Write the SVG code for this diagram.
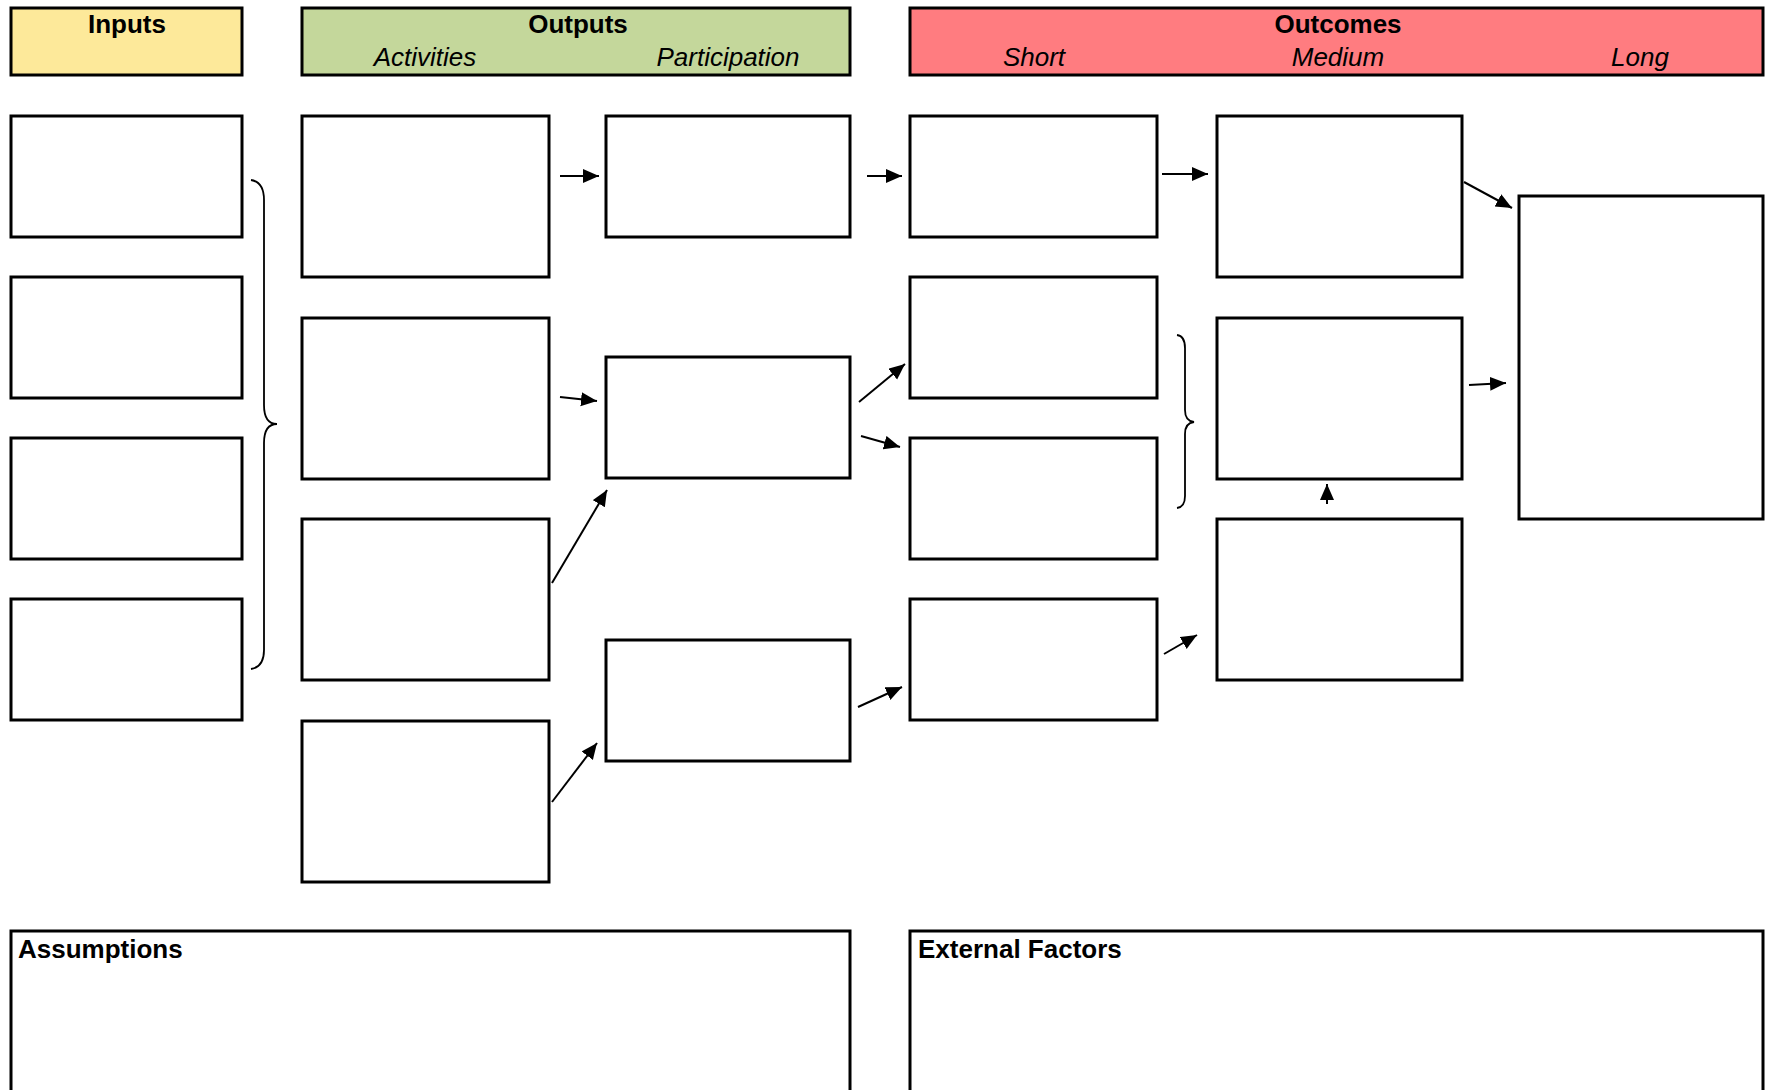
<svg xmlns="http://www.w3.org/2000/svg" width="1766" height="1090" viewBox="0 0 1766 1090">
<style>
.box{fill:#fff;stroke:#000;stroke-width:3}
.hdr{stroke:#000;stroke-width:3}
.t{font-family:"Liberation Sans",Arial,sans-serif;font-size:26px;fill:#000}
.b{font-weight:bold}
.i{font-style:italic}
.c{text-anchor:middle}
.arr{stroke:#000;stroke-width:2;fill:none;marker-end:url(#ah)}
.brace{stroke:#000;stroke-width:1.8;fill:none}
</style>
<defs>
<marker id="ah" markerUnits="userSpaceOnUse" markerWidth="17" markerHeight="15" refX="16" refY="7" orient="auto">
<path d="M0,0 L16,7 L0,14 z" fill="#000"/>
</marker>
</defs>
<rect width="1766" height="1090" fill="#fff"/>
<g id="header-inputs">
<rect class="hdr" x="11" y="8" width="231" height="67" fill="#FDE99A"/>
<text class="t b c" x="127" y="33">Inputs</text>
</g>
<g id="header-outputs">
<rect class="hdr" x="302" y="8" width="548" height="67" fill="#C4D79B"/>
<text class="t b c" x="578" y="33">Outputs</text>
<text class="t i c" x="425" y="66">Activities</text>
<text class="t i c" x="728" y="66">Participation</text>
</g>
<g id="header-outcomes">
<rect class="hdr" x="910" y="8" width="853" height="67" fill="#FF7C80"/>
<text class="t b c" x="1338" y="33">Outcomes</text>
<text class="t i c" x="1034" y="66">Short</text>
<text class="t i c" x="1338" y="66">Medium</text>
<text class="t i c" x="1640" y="66">Long</text>
</g>
<g id="input-1"><rect class="box" x="11" y="116" width="231" height="121"/></g>
<g id="input-2"><rect class="box" x="11" y="277" width="231" height="121"/></g>
<g id="input-3"><rect class="box" x="11" y="438" width="231" height="121"/></g>
<g id="input-4"><rect class="box" x="11" y="599" width="231" height="121"/></g>
<g id="activity-1"><rect class="box" x="302" y="116" width="247" height="161"/></g>
<g id="activity-2"><rect class="box" x="302" y="318" width="247" height="161"/></g>
<g id="activity-3"><rect class="box" x="302" y="519" width="247" height="161"/></g>
<g id="activity-4"><rect class="box" x="302" y="721" width="247" height="161"/></g>
<g id="participation-1"><rect class="box" x="606" y="116" width="244" height="121"/></g>
<g id="participation-2"><rect class="box" x="606" y="357" width="244" height="121"/></g>
<g id="participation-3"><rect class="box" x="606" y="640" width="244" height="121"/></g>
<g id="short-1"><rect class="box" x="910" y="116" width="247" height="121"/></g>
<g id="short-2"><rect class="box" x="910" y="277" width="247" height="121"/></g>
<g id="short-3"><rect class="box" x="910" y="438" width="247" height="121"/></g>
<g id="short-4"><rect class="box" x="910" y="599" width="247" height="121"/></g>
<g id="medium-1"><rect class="box" x="1217" y="116" width="245" height="161"/></g>
<g id="medium-2"><rect class="box" x="1217" y="318" width="245" height="161"/></g>
<g id="medium-3"><rect class="box" x="1217" y="519" width="245" height="161"/></g>
<g id="long-1"><rect class="box" x="1519" y="196" width="244" height="323"/></g>
<g id="assumptions">
<rect class="box" x="11" y="931" width="839" height="200"/>
<text class="t b" x="18" y="958">Assumptions</text>
</g>
<g id="external-factors">
<rect class="box" x="910" y="931" width="853" height="200"/>
<text class="t b" x="918" y="958">External Factors</text>
</g>
<g id="connectors">
<path class="brace" d="M251,180 Q264,182 264,200 L264,405 Q264,424 277,424 Q264,424 264,443 L264,650 Q264,667 251,669"/>
<path class="brace" d="M1177,335 Q1185,336 1185,348 L1185,410 Q1185,421 1194,422 Q1185,423 1185,434 L1185,496 Q1185,507 1177,508"/>
<line class="arr" x1="560" y1="176" x2="599" y2="176"/>
<line class="arr" x1="867" y1="176" x2="902" y2="176"/>
<line class="arr" x1="1162" y1="174" x2="1208" y2="174"/>
<line class="arr" x1="1464" y1="182" x2="1512" y2="208"/>
<line class="arr" x1="1469" y1="385" x2="1506" y2="383"/>
<line class="arr" x1="560" y1="397" x2="597" y2="401"/>
<line class="arr" x1="859" y1="402" x2="905" y2="364"/>
<line class="arr" x1="861" y1="436" x2="900" y2="447"/>
<line class="arr" x1="552" y1="583" x2="607" y2="490"/>
<line class="arr" x1="552" y1="802" x2="597" y2="743"/>
<line class="arr" x1="858" y1="707" x2="902" y2="687"/>
<line class="arr" x1="1164" y1="654" x2="1197" y2="635"/>
<line class="arr" x1="1327" y1="504" x2="1327" y2="484"/>
</g>
</svg>
